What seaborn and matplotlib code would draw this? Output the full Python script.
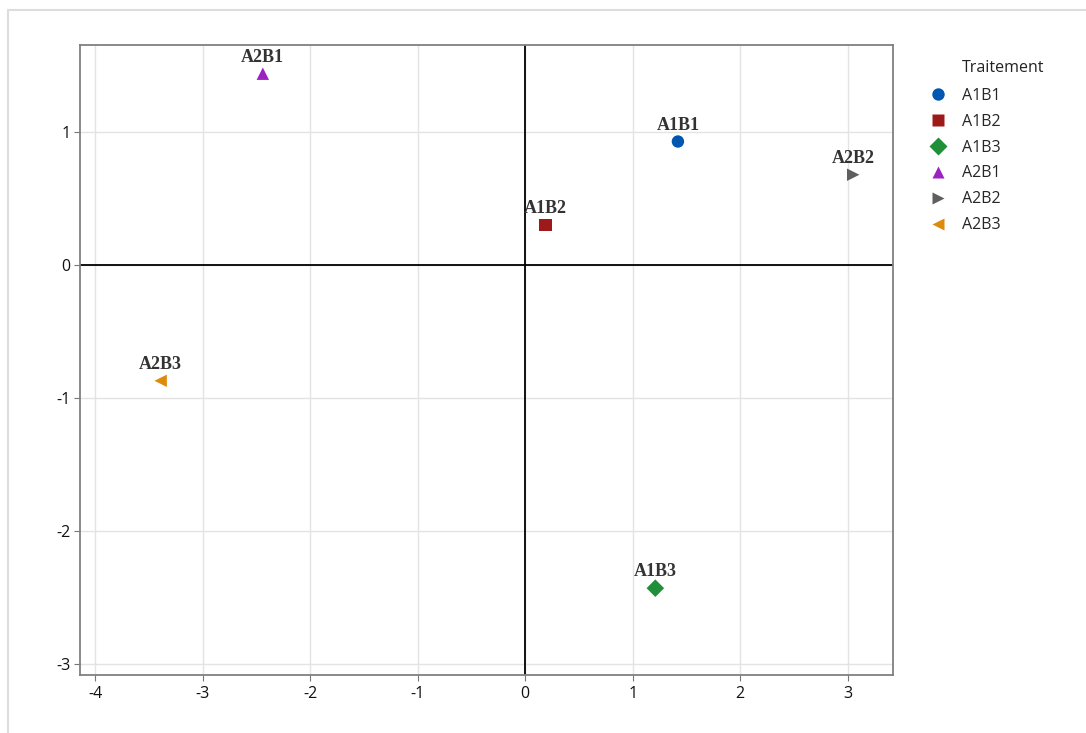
import matplotlib
matplotlib.use("Agg")
import matplotlib.pyplot as plt
from matplotlib.lines import Line2D
import pandas as pd
import seaborn as sns

# Treatment coordinates
traitements = ['A1B1', 'A1B2', 'A1B3', 'A2B1', 'A2B2', 'A2B3']
x_vals = [1.42, 0.19, 1.21, -2.44, 3.05, -3.39]
y_vals = [0.93, 0.30, -2.43, 1.44, 0.68, -0.87]

couleurs = ['#0057b0', '#9e1a1a', '#1f8f3a', '#9c22c2', '#5f5f5f', '#de8b0c']
marqueurs = ['o', 's', 'D', '^', '>', '<']

df = pd.DataFrame({'x': x_vals, 'y': y_vals, 'Traitement': traitements})

sns.set_style('white')
plt.rcParams['font.family'] = ['Open Sans', 'DejaVu Sans']

fig = plt.figure(figsize=(10.86, 7.33), dpi=100)
ax = fig.add_axes([80 / 1086, 1 - 675 / 733, 813 / 1086, 630 / 733])

# light frame around the figure
fig.add_artist(Line2D([8 / 1086, 1], [1 - 10 / 733, 1 - 10 / 733], color='#dddddd', lw=1.5))
fig.add_artist(Line2D([8 / 1086, 8 / 1086], [0, 1 - 10 / 733], color='#dddddd', lw=1.5))

ax.grid(True, color='#e3e3e3', lw=1)
ax.set_axisbelow(True)
ax.axhline(0, color='black', lw=1.3, zorder=1)
ax.axvline(0, color='black', lw=1.3, zorder=1)

sns.scatterplot(data=df, x='x', y='y', hue='Traitement', style='Traitement',
                palette=couleurs, markers=marqueurs, s=80, edgecolor='none',
                ax=ax, zorder=3)

for t, xv, yv in zip(traitements, x_vals, y_vals):
    ax.text(xv, yv + 0.06, t, ha='center', va='bottom', fontsize=13,
            fontweight='bold', family=['Liberation Serif'], color='#333333')

ax.set_xlim(-4.14, 3.42)
ax.set_ylim(-3.083, 1.656)
ax.set_xticks([-4, -3, -2, -1, 0, 1, 2, 3])
ax.set_yticks([-3, -2, -1, 0, 1])
ax.set_xticklabels(['-4', '-3', '-2', '-1', '0', '1', '2', '3'])
ax.set_yticklabels(['-3', '-2', '-1', '0', '1'])
ax.set_xlabel('')
ax.set_ylabel('')
ax.tick_params(axis='both', labelsize=11.5, length=4, color='#777777', labelcolor='#111111',
               bottom=True, left=True)
ax.tick_params(axis='x', pad=4)
ax.tick_params(axis='y', pad=3)
for sp in ax.spines.values():
    sp.set_color('#808080')
    sp.set_linewidth(1.3)

leg = ax.legend(loc='upper left', bbox_to_anchor=(1.018, 0.955),
                frameon=False, fontsize=11.5, handletextpad=0.5,
                labelspacing=0.62, markerscale=1.0)
fig.text(962 / 1086, 1 - 68 / 733, 'Traitement', ha='left', va='center',
         fontsize=11.5, color='#222222')

fig.savefig('out.png', dpi=100)
